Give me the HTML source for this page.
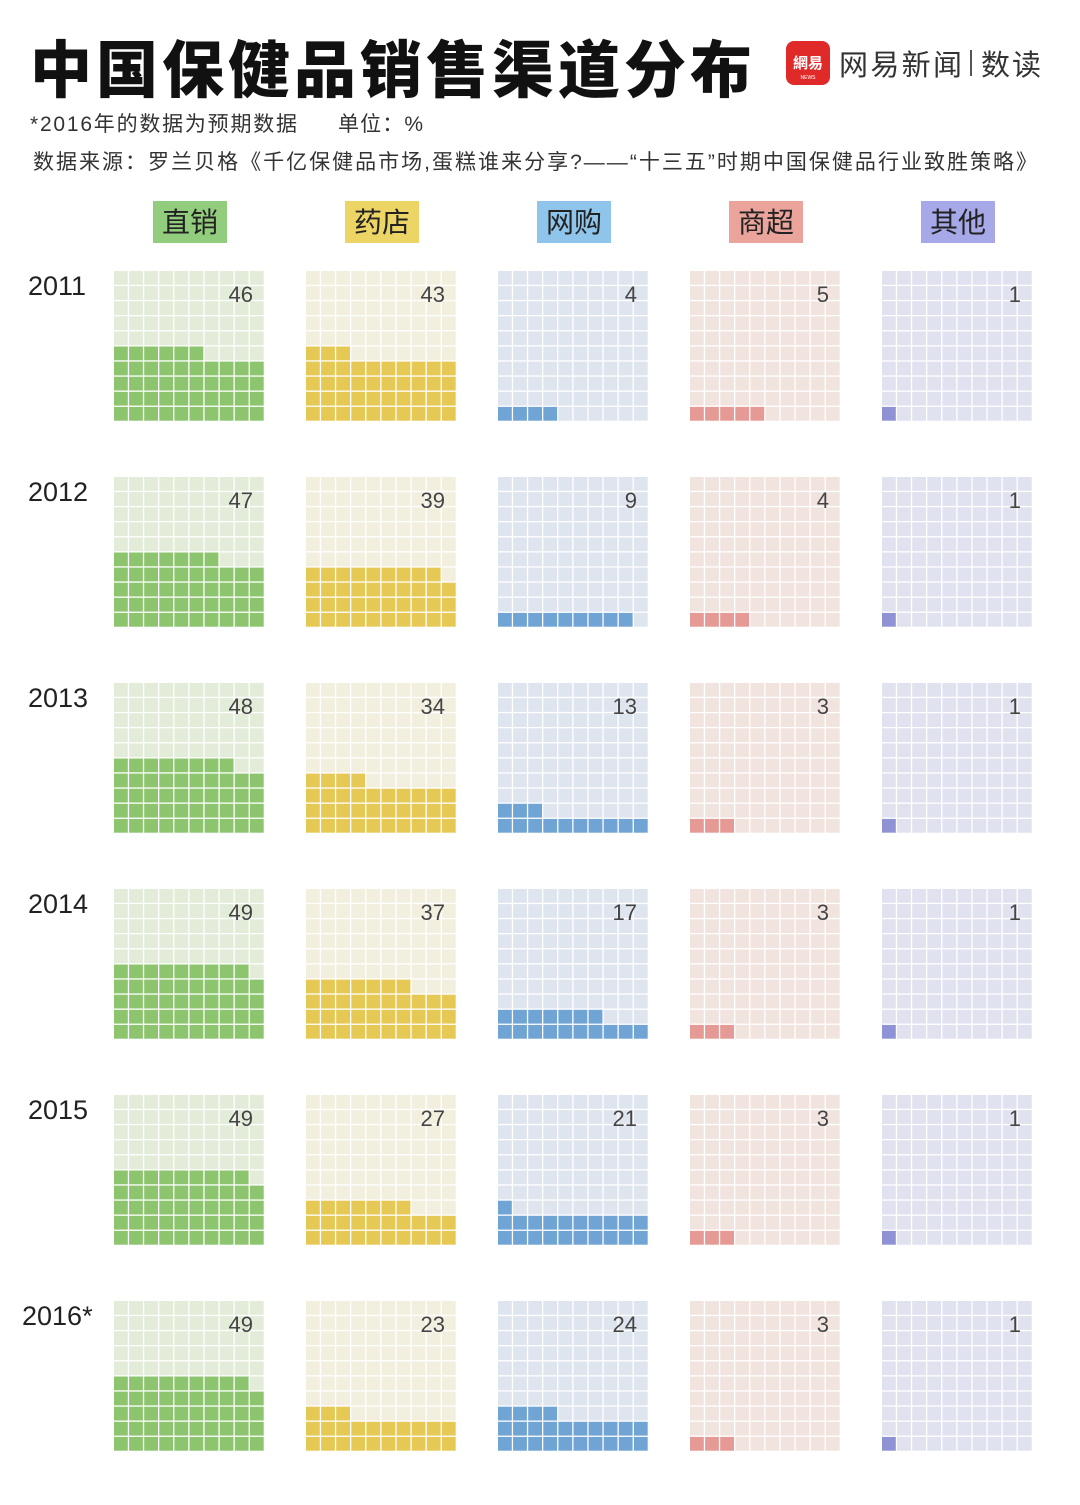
<!DOCTYPE html>
<html><head><meta charset="utf-8">
<style>
body{margin:0;background:#fff;width:1080px;height:1500px;overflow:hidden;font-family:"Liberation Sans","Noto Sans CJK SC",sans-serif;}
</style></head>
<body>
<svg id="c" width="1080" height="1500" xmlns="http://www.w3.org/2000/svg">
<text x="30" y="92" font-size="62" font-weight="900" fill="#111" font-family="Noto Sans CJK SC, sans-serif" letter-spacing="4">中国保健品销售渠道分布</text>
<g>
<rect x="786" y="41" width="44" height="44" rx="8" fill="#e02a2a"/>
<text x="808" y="68" font-size="15" fill="#fff" text-anchor="middle" font-weight="bold" font-family="Noto Sans CJK SC, sans-serif">網易</text>
<text x="808" y="79" font-size="5" fill="#fff" text-anchor="middle">NEWS</text>
<text x="839" y="75" font-size="29" fill="#333" font-family="Noto Sans CJK SC, sans-serif" textLength="123">网易新闻</text>
<rect x="970" y="50" width="2" height="26" fill="#555"/>
<text x="981" y="75" font-size="29" fill="#333" font-family="Noto Sans CJK SC, sans-serif" textLength="60">数读</text>
</g>
<text x="30" y="131" font-size="21" fill="#333" font-family="Liberation Sans, Noto Sans CJK SC, sans-serif" textLength="267">*2016年的数据为预期数据</text>
<text x="338" y="131" font-size="21" fill="#333" font-family="Liberation Sans, Noto Sans CJK SC, sans-serif" textLength="85">单位：%</text>
<text x="33" y="169" font-size="21" fill="#333" font-family="Liberation Sans, Noto Sans CJK SC, sans-serif" textLength="1004">数据来源：罗兰贝格《千亿保健品市场,蛋糕谁来分享?——“十三五”时期中国保健品行业致胜策略》</text>
</svg>
<script>
const years=["2011","2012","2013","2014","2015","2016*"];
const channels=["直销","药店","网购","商超","其他"];
const directSales=[46,47,48,49,49,49];
const pharmacy=[43,39,34,37,27,23];
const online=[4,9,13,17,21,24];
const supermarket=[5,4,3,3,3,3];
const others=[1,1,1,1,1,1];
const series=[directSales,pharmacy,online,supermarket,others];
const fills=["#8cc56e","#e6c955","#6fa4d4","#e59a95","#8f93d6"];
const bgs=["#e2ecd8","#f3efdf","#dfe5ee","#f1e4df","#e1e2ef"];
const heads=["#92cd7d","#ecd565","#8fc4eb","#eba49c","#a6a8e8"];
const svg=document.getElementById('c');
const NS="http://www.w3.org/2000/svg";
const colX=i=>114+i*192, rowY=j=>271+j*206, cell=15.1;
function mk(t,a){const e=document.createElementNS(NS,t);for(const k in a)e.setAttribute(k,a[k]);svg.appendChild(e);return e;}
channels.forEach((c,i)=>{
  const r=mk('rect',{x:colX(i)+39,y:201,width:74,height:42,fill:heads[i]});
  
  
  const t=mk('text',{x:colX(i)+76,y:232,'font-size':28,'text-anchor':'middle',fill:'#222','font-family':'Noto Sans CJK SC, sans-serif'});
  t.textContent=c;
  
  
});
years.forEach((y,j)=>{
  const t=mk('text',{x:y.length>4?22:28,y:rowY(j)+24,'font-size':27,fill:'#222'});
  t.textContent=y;
  
  
  series.forEach((s,i)=>{
    const v=s[j];
    for(let k=0;k<100;k++){
      const row=9-Math.floor(k/10), col=k%10;
      const r=mk('rect',{x:colX(i)+col*cell,y:rowY(j)+row*cell,width:cell-1.3,height:cell-1.3,fill:k<v?fills[i]:bgs[i]});
      
      
    }
    const l=mk('text',{x:colX(i)+139,y:rowY(j)+31,'font-size':22,'text-anchor':'end',fill:'#444'});
    l.textContent=v;
    
    
  });
});
</script>
</body></html>
